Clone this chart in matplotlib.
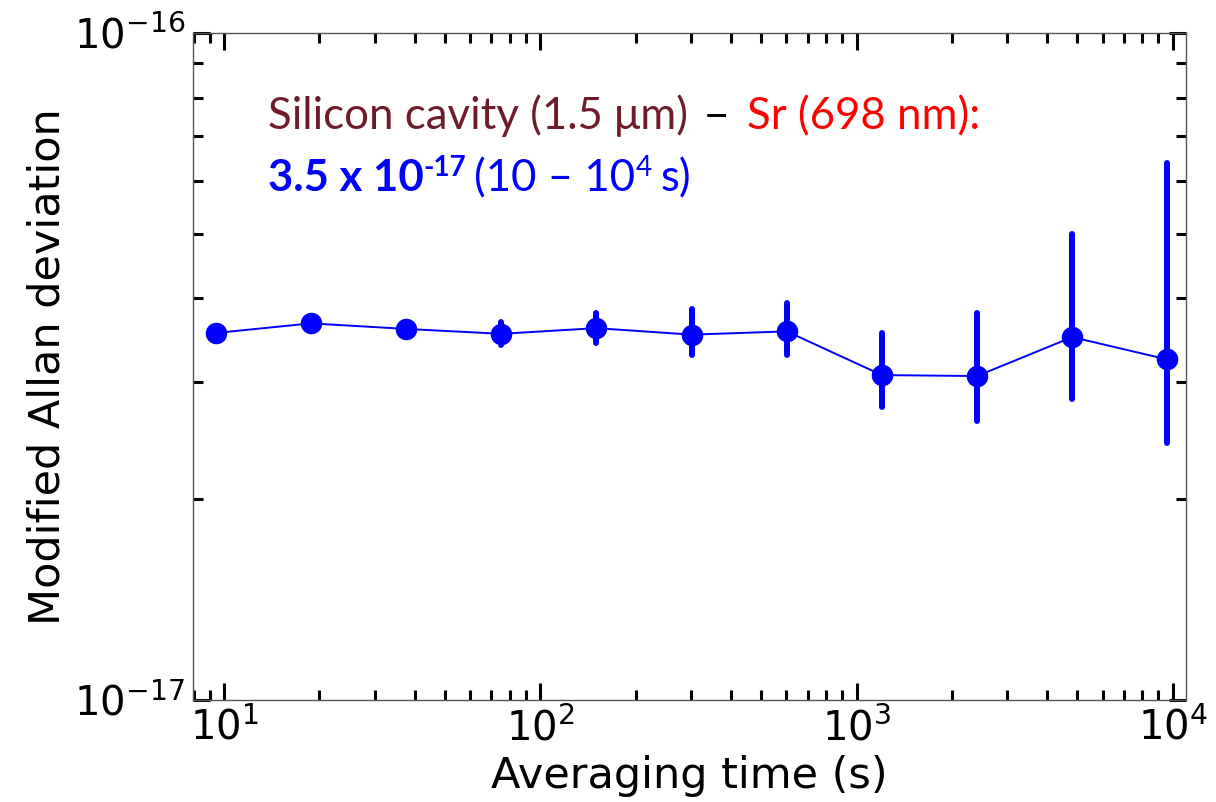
import numpy as np
import matplotlib
matplotlib.use("Agg")
import matplotlib.pyplot as plt
from matplotlib.ticker import LogLocator, NullFormatter, LogFormatterSciNotation

# averaging times (s) and modified Allan deviation
tau = [9.4, 18.8, 37.6, 75.2, 150, 301, 602, 1203, 2406, 4813, 9626]
mdev = [3.55e-17, 3.67e-17, 3.60e-17, 3.54e-17, 3.61e-17, 3.53e-17,
        3.57e-17, 3.07e-17, 3.06e-17, 3.50e-17, 3.24e-17]
# lower / upper ends of the error bars
err_lo = [3.50e-17, 3.62e-17, 3.55e-17, 3.41e-17, 3.43e-17, 3.29e-17,
          3.29e-17, 2.75e-17, 2.62e-17, 2.83e-17, 2.43e-17]
err_hi = [3.60e-17, 3.72e-17, 3.65e-17, 3.69e-17, 3.80e-17, 3.85e-17,
          3.94e-17, 3.55e-17, 3.80e-17, 5.00e-17, 6.38e-17]
xticks = [1e1, 1e2, 1e3, 1e4]
yticks = [1e-17, 1e-16]

W, H = 1216, 802
fig = plt.figure(figsize=(W / 100, H / 100), dpi=100)
ax = fig.add_axes([0.159, 0.127, 0.816, 0.832])

y = np.array(mdev)
yerr = [y - np.array(err_lo), np.array(err_hi) - y]
eb = ax.errorbar(tau, mdev, yerr=yerr, fmt='o-', color='#0000ff', ms=14.5,
                 lw=1.4, elinewidth=4.3, capsize=0)
for c in eb[2]:
    c.set_capstyle('round')

ax.set_xscale('log')
ax.set_yscale('log')
ax.set_xlim(7.98, 1.099e4)
ax.set_ylim(1e-17, 1e-16)

ax.set_xticks(xticks)
ax.set_yticks(yticks)
ax.yaxis.set_minor_locator(LogLocator(base=10, subs=np.arange(2, 10)))
ax.yaxis.set_major_formatter(LogFormatterSciNotation())
ax.xaxis.set_major_formatter(LogFormatterSciNotation())
ax.yaxis.set_minor_formatter(NullFormatter())
ax.xaxis.set_minor_formatter(NullFormatter())

ax.tick_params(which='both', direction='in', top=True, right=True,
               width=2.2, color='black', labelsize=29, pad=6)
ax.tick_params(which='major', length=12)
ax.tick_params(which='minor', length=7)
for s in ax.spines.values():
    s.set_color('#555555')
    s.set_linewidth(1.0)

ax.set_xlabel('Averaging time (s)', fontsize=31, labelpad=4)
ax.set_ylabel('Modified Allan deviation', fontsize=31, labelpad=4)

# annotation made of coloured runs of text
fam = ['Lato', 'DejaVu Sans']
renderer = fig.canvas.get_renderer()


def put_run(x0, y0, pieces):
    x = x0
    for s, color, weight, size, rise, gap in pieces:
        t = fig.text(x / W, (H - y0 + rise) / H, s, color=color, fontsize=size,
                     fontweight=weight, family=fam, ha='left', va='baseline')
        bb = t.get_window_extent(renderer)
        x = bb.x1 + gap


maroon = '#6e1c2a'
put_run(268, 129, [
    ('Silicon cavity (1.5 μm)', maroon, 'normal', 31.5, 0, 16),
    ('−', 'black', 'normal', 31.5, 0, 18),
    ('Sr (698 nm):', '#ff0000', 'normal', 31.5, 0, 0),
])
put_run(268, 191, [
    ('3.5 x 10', '#0000ff', 'bold', 31.5, 0, 0),
    ('-17', '#0000ff', 'bold', 20, 15, 7),
    ('(10 – 10', '#0000ff', 'normal', 31.5, 0, 1),
    ('4', '#0000ff', 'normal', 20, 15, 9),
    ('s)', '#0000ff', 'normal', 31.5, 0, 0),
])

fig.savefig('out.png', dpi=100)
